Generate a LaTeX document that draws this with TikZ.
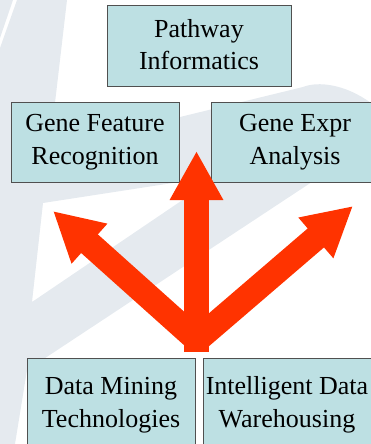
\documentclass[tikz,border=0pt]{standalone}
\usepackage{fontspec}
\setmainfont{Liberation Serif}
\usetikzlibrary{arrows.meta}
\definecolor{wm}{RGB}{229,234,239}
\definecolor{boxfill}{RGB}{189,224,227}
\definecolor{boxline}{RGB}{80,80,80}
\definecolor{arrowred}{RGB}{255,51,0}
\begin{document}
\begin{tikzpicture}[x=1pt,y=-1pt,
  box/.style={draw=boxline, line width=1pt, fill=boxfill, align=center,
    inner sep=0pt, font=\fontsize{26}{32.5}\selectfont,
    minimum height=80pt, minimum width=168pt},
  bigarrow/.style={draw=arrowred, line width=25pt,
    -{Triangle[length=49pt,width=50pt]}}]
\useasboundingbox (0,0) rectangle (371,444);
\clip (0,0) rectangle (371,444);
% watermark
\fill[wm] (0,0) -- (13,0) -- (0,38) -- cycle;
\fill[wm, even odd rule] (17,0) -- (67,0) -- (49.5,150) -- (180,117) -- (303,87)
  .. controls (318,81) and (345,84) .. (371,103) -- (371,143) -- (183,267)
  -- (27,370) -- (15,444) -- (0,444) -- (0,48) -- cycle
  (43,203) -- (32,302) -- (218,176) -- cycle;
% boxes
\node[box, minimum width=184pt, text depth=3pt] (pathway) at (199,46) {Pathway\\Informatics};
\node[box] (feature) at (95,142) {Gene Feature\\Recognition};
\node[box] (expr) at (295,142) {Gene Expr\\Analysis};
\node[box, minimum height=94pt] (mining) at (111,405) {Data Mining\\Technologies};
\node[box, minimum height=94pt] (warehouse) at (287,405) {Intelligent Data\\Warehousing};
% arrows
\coordinate (hub) at (197,340);
\coordinate (hubv) at (196.5,352);
\coordinate (tipL) at (53,211);
\coordinate (tipU) at (196.5,151);
\coordinate (tipR) at (353,206);
\draw[bigarrow] (hub) -- (tipL);
\draw[bigarrow] (hub) -- (tipR);
\draw[bigarrow] (hubv) -- (tipU);
\end{tikzpicture}
\end{document}
